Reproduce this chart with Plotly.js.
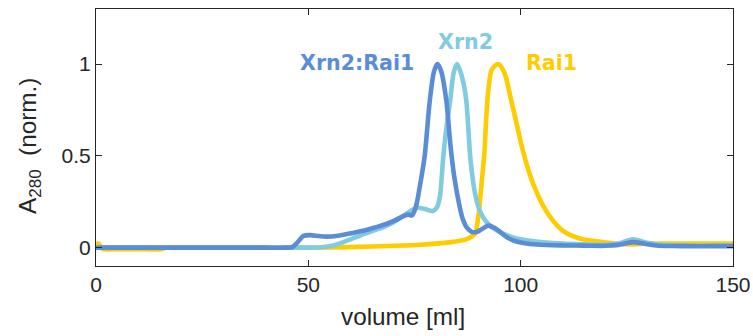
<!DOCTYPE html>
<html>
<head>
<meta charset="utf-8">
<script src="https://cdn.plot.ly/plotly-3.0.1.min.js"></script>
<style>html,body{margin:0;padding:0;background:#fff;}#chart{width:753px;height:336px;}</style>
</head>
<body>
<div id="chart"></div>
<script>
// Xrn2:Rai1 complex
const volComplex = [0, 10, 20, 30, 40, 45, 46.2, 47.5, 48.8, 50.4, 52.5, 54.3, 57, 59.1, 61.5, 63.8, 66, 68.5, 70.5, 72.4, 73.5, 74.4, 75.3, 76.3, 77.4, 78.6, 79.6, 80.4, 81.3, 82.5, 83.5, 84.4, 85.4, 86.3, 87.3, 88.5, 89.6, 90.8, 92.4, 93.8, 95.2, 96.7, 98.2, 100, 102.2, 106, 110, 115, 120, 123, 126.4, 129.5, 132, 136, 140, 145, 150];
const absComplex = [0, 0, 0, 0, 0, 0, 0.003, 0.03, 0.063, 0.068, 0.063, 0.06, 0.065, 0.074, 0.085, 0.097, 0.112, 0.13, 0.15, 0.172, 0.18, 0.176, 0.22, 0.34, 0.5, 0.8, 0.96, 1.0, 0.96, 0.8, 0.55, 0.38, 0.25, 0.16, 0.11, 0.086, 0.085, 0.1, 0.12, 0.108, 0.085, 0.058, 0.04, 0.028, 0.02, 0.014, 0.012, 0.011, 0.01, 0.015, 0.03, 0.02, 0.012, 0.009, 0.008, 0.008, 0.008];

// Xrn2
const volXrn2 = [0, 10, 20, 30, 40, 50, 53, 55.9, 59.1, 62.2, 65.4, 68, 70.1, 72.5, 74.8, 75.8, 77.5, 79.3, 80.3, 81.0, 81.7, 82.5, 83.4, 84.2, 85.0, 85.8, 86.5, 87.2, 88.2, 89.3, 90.4, 91.6, 93, 94.4, 96.3, 98.2, 100, 102.2, 106, 110, 115, 120, 123, 126.4, 129.5, 133, 140, 150];
const absXrn2 = [0, 0, 0, 0, 0, 0, 0.002, 0.012, 0.038, 0.066, 0.093, 0.115, 0.138, 0.175, 0.21, 0.217, 0.21, 0.2, 0.22, 0.28, 0.475, 0.65, 0.8, 0.95, 1.0, 0.96, 0.9, 0.8, 0.475, 0.29, 0.2, 0.15, 0.115, 0.093, 0.072, 0.056, 0.046, 0.038, 0.028, 0.022, 0.018, 0.015, 0.022, 0.045, 0.028, 0.015, 0.012, 0.012];

// Rai1
const volRai1 = [0, 0.6, 1.5, 5, 10, 15.5, 16.5, 25, 40, 55, 65, 76.3, 83.5, 87.3, 89.2, 90.0, 90.8, 91.5, 91.9, 92.4, 93.2, 94.7, 96.2, 97.8, 99.2, 100.5, 102.9, 106, 109.9, 113.9, 117, 120.2, 123, 126.4, 130, 140, 150];
const absRai1 = [0.02, 0.022, -0.006, -0.008, -0.008, -0.008, 0, 0, 0, 0.001, 0.006, 0.016, 0.03, 0.047, 0.075, 0.166, 0.35, 0.53, 0.71, 0.86, 0.97, 1.0, 0.95, 0.8, 0.66, 0.53, 0.35, 0.2, 0.093, 0.05, 0.037, 0.028, 0.021, 0.018, 0.022, 0.022, 0.022];

const seriesNames = ['Xrn2:Rai1', 'Xrn2', 'Rai1'];
const xTicks = [0, 50, 100, 150];
const yTicks = [0, 0.5, 1];
const xTitle = 'volume [ml]';
const yTitle = 'A<sub>280</sub>  (norm.)';

const cBlue = 'rgb(91,141,214)';
const cCyan = 'rgb(128,203,222)';
const cYellow = 'rgb(255,204,0)';
const ink = '#262626';
const helv = 'Liberation Sans, Arial, sans-serif';

const traces = [
  {x: volRai1, y: absRai1, name: seriesNames[2], mode: 'lines', line: {color: cYellow, width: 4.6, shape: 'spline', smoothing: 0.8}},
  {x: volXrn2, y: absXrn2, name: seriesNames[1], mode: 'lines', line: {color: cCyan, width: 4.6, shape: 'spline', smoothing: 0.8}},
  {x: volComplex, y: absComplex, name: seriesNames[0], mode: 'lines', line: {color: cBlue, width: 4.6, shape: 'spline', smoothing: 0.8}}
];

const axisCommon = {
  showgrid: false, zeroline: false, showline: true, mirror: 'ticks',
  linecolor: ink, linewidth: 1, ticks: 'inside', ticklen: 6, tickcolor: ink, tickwidth: 1,
  tickfont: {family: helv, size: 21, color: ink}
};

const layout = {
  width: 753, height: 336,
  margin: {l: 96, r: 20, t: 9, b: 70},
  paper_bgcolor: '#fff', plot_bgcolor: '#fff',
  showlegend: false,
  xaxis: Object.assign({}, axisCommon, {range: [0, 150], tickvals: xTicks, ticktext: xTicks.map(String)}),
  yaxis: Object.assign({}, axisCommon, {range: [-0.1, 1.3], tickvals: yTicks, ticktext: yTicks.map(String)}),
  annotations: [
    {x: 0.482, y: -0.198, xref: 'paper', yref: 'paper', text: xTitle, showarrow: false, xanchor: 'center', yanchor: 'middle', font: {family: helv, size: 24.3, color: ink}},
    {x: -0.1036, y: 0.467, xref: 'paper', yref: 'paper', text: yTitle, textangle: -90, showarrow: false, xanchor: 'center', yanchor: 'middle', font: {family: helv, size: 24.3, color: ink}},
    {x: 61.4, y: 1.004, xref: 'x', yref: 'y', text: '<b>' + seriesNames[0] + '</b>', showarrow: false, xanchor: 'center', yanchor: 'middle', font: {family: 'DejaVu Sans', size: 20.6, color: cBlue}},
    {x: 87.1, y: 1.122, xref: 'x', yref: 'y', text: '<b>' + seriesNames[1] + '</b>', showarrow: false, xanchor: 'center', yanchor: 'middle', font: {family: 'DejaVu Sans', size: 20.6, color: cCyan}},
    {x: 107.3, y: 1.004, xref: 'x', yref: 'y', text: '<b>' + seriesNames[2] + '</b>', showarrow: false, xanchor: 'center', yanchor: 'middle', font: {family: 'DejaVu Sans', size: 20.6, color: cYellow}}
  ]
};

Plotly.newPlot('chart', traces, layout, {displayModeBar: false, staticPlot: true});
</script>
</body>
</html>
